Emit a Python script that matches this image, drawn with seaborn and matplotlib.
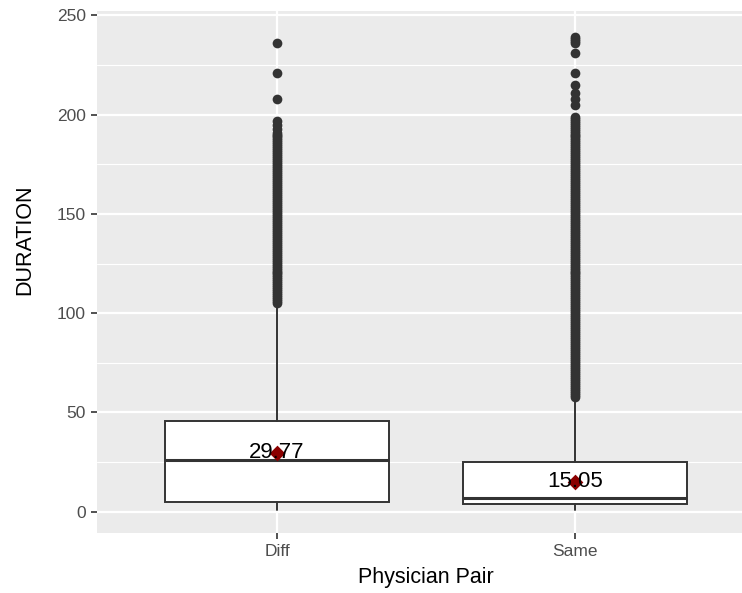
import numpy as np
import pandas as pd
import seaborn as sns
import matplotlib.pyplot as plt
from matplotlib.ticker import MultipleLocator

# box statistics
groups = ["Diff", "Same"]
q1 = [5, 4]
median = [26, 7]
q3 = [45.5, 25]
whisker_lo = [1, 1]
whisker_hi = [104, 57]
means = [29.77, 15.05]
mean_labels = ["29.77", "15.05"]

# outliers: durations are whole minutes; dense runs hold every value in the run
diff_runs = [(105, 191)]
diff_single = [193, 195, 197, 208, 221, 236]
same_runs = [(58, 199)]
same_single = [205, 208, 211, 215, 221, 231, 236, 237, 238, 239]

yticks = [0, 50, 100, 150, 200, 250]


def expand(runs, singles):
    vals = []
    for a, b in runs:
        vals.extend(range(a, b + 1))
    return vals + list(singles)


diff_out = expand(diff_runs, diff_single)
same_out = expand(same_runs, same_single)
outliers = pd.DataFrame({
    "pair": ["Diff"] * len(diff_out) + ["Same"] * len(same_out),
    "DURATION": diff_out + same_out,
})
mean_df = pd.DataFrame({"pair": groups, "DURATION": means})

sns.set_theme(style="darkgrid", rc={
    "axes.facecolor": "#EBEBEB",
    "grid.color": "white",
    "axes.edgecolor": "#EBEBEB",
})
plt.rcParams["font.family"] = ["Liberation Sans", "DejaVu Sans"]

fig = plt.figure(figsize=(7.42, 5.93), dpi=100)
ax = fig.add_axes([97 / 742, 1 - 533 / 593, (742 - 97) / 742, (533 - 11) / 593])

sns.stripplot(data=outliers, x="pair", y="DURATION", order=groups, jitter=False,
              color="#333333", size=7, linewidth=0, ax=ax, zorder=2)

stats = []
for i, g in enumerate(groups):
    stats.append({"label": g, "q1": q1[i], "med": median[i], "q3": q3[i],
                  "whislo": whisker_lo[i], "whishi": whisker_hi[i], "fliers": []})
line_kw = dict(color="#333333", linewidth=1.4)
ax.bxp(stats, positions=[0, 1], widths=0.75, patch_artist=True, showcaps=False,
       boxprops=dict(facecolor="white", edgecolor="#333333", linewidth=1.4),
       whiskerprops=line_kw, medianprops=dict(color="#333333", linewidth=2.2),
       manage_ticks=False, zorder=3)

sns.stripplot(data=mean_df, x="pair", y="DURATION", order=groups, jitter=False,
              color="darkred", marker="D", size=8, linewidth=0, ax=ax, zorder=4)
for i, lab in enumerate(mean_labels):
    ax.text(i, means[i], lab, ha="center", va="center", fontsize=16,
            color="black", zorder=5)

ax.set_xlim(-0.604, 1.56)
ax.set_ylim(-10.7, 252.2)
ax.set_yticks(yticks)
ax.yaxis.set_minor_locator(MultipleLocator(25))
ax.set_xticks([0, 1])
ax.set_xticklabels(groups)
ax.grid(True, which="major", color="white", linewidth=1.6)
ax.grid(True, which="minor", axis="y", color="white", linewidth=0.8)
ax.tick_params(which="major", length=4, width=1.2, color="#333333",
               labelcolor="#4D4D4D", labelsize=12.5, pad=4, bottom=True, left=True)
ax.tick_params(which="minor", length=0)
for s in ax.spines.values():
    s.set_visible(False)

ax.set_xlabel("Physician Pair", fontsize=15.5, color="black")
ax.set_ylabel("DURATION", fontsize=15.5, color="black")
ax.xaxis.set_label_coords((426 - 97) / 645, -0.065)
ax.yaxis.set_label_coords(-0.096, (533 - 240) / 522)

fig.savefig("out.png", dpi=100)
